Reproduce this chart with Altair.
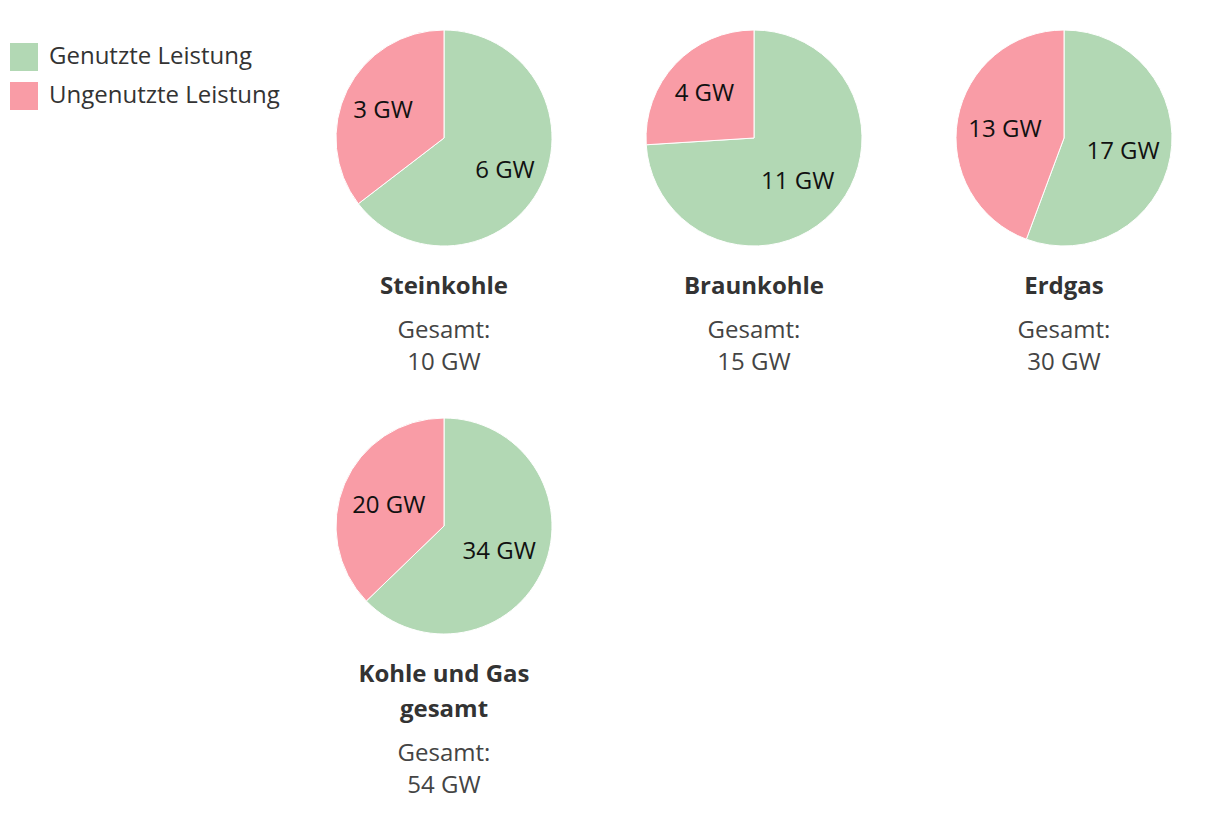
import altair as alt
import pandas as pd

# ---- data ----
title_lines = [["Steinkohle"], ["Braunkohle"], ["Erdgas"], ["Kohle und Gas", "gesamt"]]
totals = ["10 GW", "15 GW", "30 GW", "54 GW"]
series = ["Genutzte Leistung", "Ungenutzte Leistung"]
used = [6.2, 11.1, 16.7, 33.9]
unused = [3.4, 3.9, 13.3, 20.1]
colors = ["#b2d8b4", "#f99ca6"]

FONT = "Open Sans"


def pie(i):
    df = pd.DataFrame({
        "series": series,
        "value": [used[i], unused[i]],
        "order": [0, 1],
    })
    arcs = alt.Chart(df).mark_arc(outerRadius=108, stroke="white", strokeWidth=1).encode(
        theta=alt.Theta("value:Q", stack=True),
        order=alt.Order("order:Q"),
        color=alt.Color(
            "series:N",
            scale=alt.Scale(domain=series, range=colors),
            legend=alt.Legend(
                title=None,
                orient="none",
                legendX=-326,
                legendY=13,
                symbolType="square",
                symbolSize=784,
                symbolStrokeWidth=0,
                labelFont=FONT,
                labelFontSize=24,
                labelColor="#333333",
                labelOffset=11,
                labelLimit=0,
                rowPadding=11,
                padding=0,
            ),
        ),
    )
    # labels: stacked explicitly; wider labels sit a little closer to the centre
    labels = alt.Chart(df).transform_stack(
        stack="value", as_=["v0", "v1"], groupby=[], sort=[alt.SortField("order")]
    ).transform_calculate(
        mid="(datum.v0 + datum.v1) / 2",
        label="format(datum.value, '.0f') + ' GW'",
    ).transform_calculate(
        lr="100 - 8 * length(datum.label)"
    ).mark_text(font=FONT, fontSize=24, color="#111111", dy=3).encode(
        theta=alt.Theta("mid:Q", stack=None),
        radius=alt.Radius("lr:Q", scale=None),
        text="label:N",
    )
    return alt.layer(arcs, labels).properties(
        width=216,
        height=216,
        title=alt.TitleParams(
            text=title_lines[i],
            subtitle=["Gesamt:", totals[i]],
            orient="bottom",
            anchor="middle",
        ),
    )


row1 = alt.hconcat(pie(0), pie(1), pie(2), spacing=90)
chart = alt.vconcat(row1, pie(3), spacing=41).properties(
    padding={"left": 2, "top": 20, "right": 5, "bottom": 5}
).configure_view(stroke=None).configure_title(
    font=FONT,
    fontSize=24,
    fontWeight="bold",
    color="#333333",
    lineHeight=35,
    offset=27,
    subtitleFont=FONT,
    subtitleFontSize=24,
    subtitleColor="#444444",
    subtitleLineHeight=32,
    subtitlePadding=20,
)

chart.save("out.html", embed_options={"renderer": "svg", "actions": False})
